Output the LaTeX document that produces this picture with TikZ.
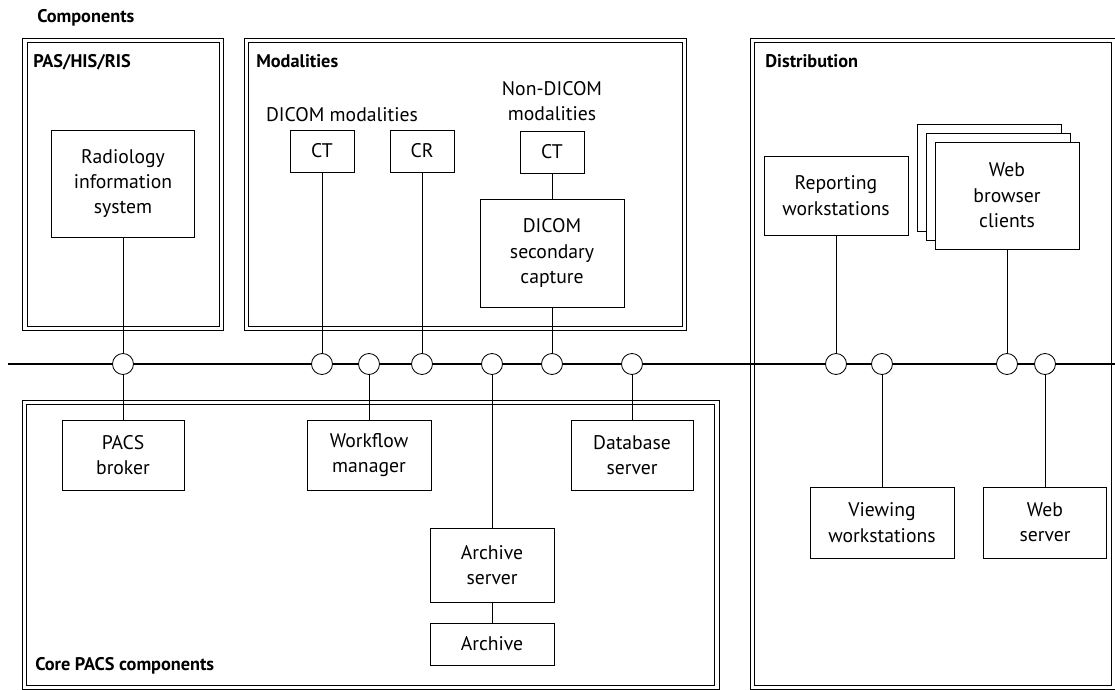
\documentclass[tikz,border=0pt]{standalone}
\usepackage{fontspec}
\setmainfont{PT Sans}
\usepackage{tikz}
\usetikzlibrary{positioning,shadows}
\tikzset{
  unit/.style={draw,fill=white,line width=0.6pt,align=center,inner sep=0pt,font=\fontsize{14}{18}\selectfont},
  sized/.style 2 args={minimum width=#1*0.025cm,minimum height=#2*0.025cm},
  tap/.style={circle,draw,fill=white,line width=0.6pt,minimum size=0.525cm,inner sep=0pt},
  frame/.style={draw,double,double distance=2.4pt,line width=0.7pt},
  framelabel/.style={anchor=base west,inner sep=0pt,font=\bfseries\fontsize{13}{16}\selectfont},
  grouplabel/.style={align=center,inner sep=0pt,font=\fontsize{14}{18}\selectfont},
  bus/.style={line width=2pt},
  link/.style={line width=0.6pt}
}
\begin{document}
\begin{tikzpicture}[x=0.025cm,y=-0.025cm]
  \useasboundingbox (0,0) rectangle (1115,689);

  % Frames
  \node[framelabel] (title) at (37,23) {Components};
  \draw[frame] (25,40.5) rectangle (221.5,328.5);
  \draw[frame] (246.5,40.5) rectangle (684.5,328.5);
  \draw[frame] (752.5,40.5) rectangle (1113.5,687.5);
  \draw[frame] (24.5,402.5) rectangle (717,687.5);
  \node[framelabel] (lpas) at (33,68) {PAS/HIS/RIS};
  \node[framelabel] (lmod) at (256,68) {Modalities};
  \node[framelabel] (ldist) at (765,68) {Distribution};
  \node[framelabel] (lcore) at (35,670) {Core PACS components};

  % Network bus
  \coordinate (busW) at (8,364);
  \coordinate (busE) at (1116,364);
  \draw[bus] (busW) -- (busE);

  % Upper units
  \node[unit,sized={143}{107}] (ris) at (123,183.5) {Radiology\\information\\system};
  \node[grouplabel] (ldicom) at (342,115) {DICOM modalities};
  \node[grouplabel] (lnondicom) at (552,101) {Non-DICOM\\modalities};
  \node[unit,sized={64}{42}] (cta) at (322,151) {CT};
  \node[unit,sized={64}{42}] (cr) at (422,151) {CR};
  \node[unit,sized={64}{42}] (ctb) at (552,152) {CT};
  \node[unit,sized={144}{108}] (dsc) at (552,253) {DICOM\\secondary\\capture};
  \node[unit,sized={144}{79}] (rep) at (836,195.5) {Reporting\\workstations};
  \node[unit,sized={144}{107},double copy shadow={shadow xshift=-9*0.025cm,shadow yshift=9*0.025cm}] (web) at (1007,195.5) {Web\\browser\\clients};

  % Lower units
  \node[unit,sized={122}{70}] (pacs) at (123,455) {PACS\\broker};
  \node[unit,sized={124}{70}] (wf) at (369,455) {Workflow\\manager};
  \node[unit,sized={122}{70}] (db) at (632,455) {Database\\server};
  \node[unit,sized={124}{74}] (arcsrv) at (492,565) {Archive\\server};
  \node[unit,sized={124}{42}] (arc) at (492,644) {Archive};
  \node[unit,sized={144}{71}] (view) at (882,522.5) {Viewing\\workstations};
  \node[unit,sized={123}{71}] (wsrv) at (1045,522.5) {Web\\server};

  % Taps on the bus
  \node[tap] (tris) at (123,364) {};
  \node[tap] (tcta) at (322,364) {};
  \node[tap] (twf) at (369,364) {};
  \node[tap] (tcr) at (422,364) {};
  \node[tap] (tarc) at (492,364) {};
  \node[tap] (tdsc) at (552,364) {};
  \node[tap] (tdb) at (632,364) {};
  \node[tap] (trep) at (836,364) {};
  \node[tap] (tview) at (882,364) {};
  \node[tap] (tweb) at (1007,364) {};
  \node[tap] (twsrv) at (1045,364) {};

  % Links
  \draw[link] (ris) -- (tris);
  \draw[link] (tris) -- (pacs);
  \draw[link] (cta) -- (tcta);
  \draw[link] (cr) -- (tcr);
  \draw[link] (ctb) -- (dsc);
  \draw[link] (dsc) -- (tdsc);
  \draw[link] (twf) -- (wf);
  \draw[link] (tarc) -- (arcsrv);
  \draw[link] (arcsrv) -- (arc);
  \draw[link] (tdb) -- (db);
  \draw[link] (rep) -- (trep);
  \draw[link] (web) -- (tweb);
  \draw[link] (tview) -- (view);
  \draw[link] (twsrv) -- (wsrv);
\end{tikzpicture}
\end{document}
